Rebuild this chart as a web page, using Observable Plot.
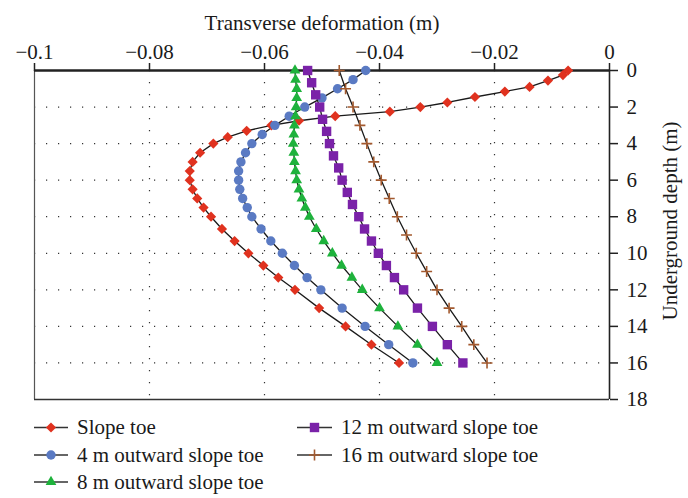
<!DOCTYPE html>
<html><head><meta charset="utf-8">
<script src="https://cdn.jsdelivr.net/npm/d3@7"></script>
<script src="https://cdn.jsdelivr.net/npm/@observablehq/plot@0.6"></script>
<style>
body{margin:0;background:#fff;}
#wrap{position:relative;width:688px;height:498px;font-family:"Liberation Serif","DejaVu Serif",serif;}
#wrap svg{font-family:"Liberation Serif","DejaVu Serif",serif;}
#wrap svg text{font-family:"Liberation Serif","DejaVu Serif",serif !important;}
#wrap svg.leg{position:absolute;left:0;top:0;pointer-events:none;}
</style></head><body><div id="wrap"></div>
<script>
// ---- data ----
const xTicks = [-0.1, -0.08, -0.06, -0.04, -0.02, 0];
const yTicks = [0, 2, 4, 6, 8, 10, 12, 14, 16, 18];
const seriesNames = ["Slope toe", "4 m outward slope toe", "8 m outward slope toe", "12 m outward slope toe", "16 m outward slope toe"];

const depthToe = [0, 0.25, 0.55, 0.9, 1.15, 1.45, 1.75, 2, 2.25, 2.5, 2.75, 3, 3.3, 3.65, 4, 4.5, 5, 5.5, 6, 6.5, 7, 7.5, 8, 8.67, 9.33, 10, 10.67, 11.33, 12, 13, 14, 15, 16];
const valToe = [-0.0072, -0.0081, -0.0107, -0.0139, -0.0182, -0.0234, -0.0282, -0.0329, -0.0382, -0.0477, -0.054, -0.0588, -0.0631, -0.0664, -0.0689, -0.0712, -0.0725, -0.073, -0.073, -0.0725, -0.0717, -0.0706, -0.0693, -0.0674, -0.0652, -0.0628, -0.0602, -0.0576, -0.0547, -0.0505, -0.0459, -0.0414, -0.0366];

const depth4 = [0, 0.5, 1, 1.5, 2, 2.5, 3, 3.5, 4, 4.5, 5, 5.5, 6, 6.5, 7, 7.5, 8, 8.67, 9.33, 10, 10.67, 11.33, 12, 13, 14, 15, 16];
const val4 = [-0.0424, -0.0446, -0.0473, -0.05, -0.053, -0.0557, -0.0582, -0.0604, -0.0622, -0.0633, -0.0641, -0.0645, -0.0645, -0.0643, -0.0638, -0.063, -0.0622, -0.0606, -0.0589, -0.0569, -0.0548, -0.0526, -0.0502, -0.0465, -0.0425, -0.0384, -0.0342];

const depth8 = [0, 0.5, 1, 1.5, 2, 2.5, 3, 3.5, 4, 4.5, 5, 5.5, 6, 6.5, 7, 7.5, 8, 8.67, 9.33, 10, 10.67, 11.33, 12, 13, 14, 15, 16];
const val8 = [-0.0547, -0.0546, -0.0544, -0.0544, -0.0545, -0.0546, -0.0548, -0.0549, -0.055, -0.0549, -0.0548, -0.0546, -0.0544, -0.054, -0.0535, -0.0529, -0.0522, -0.051, -0.0497, -0.0482, -0.0466, -0.0448, -0.043, -0.04, -0.0368, -0.0334, -0.03];

const depth12 = [0, 0.67, 1.33, 2, 2.67, 3.33, 4, 4.67, 5.33, 6, 6.67, 7.33, 8, 8.67, 9.33, 10, 10.67, 11.33, 12, 13, 14, 15, 16];
const val12 = [-0.0525, -0.0518, -0.0511, -0.0504, -0.0499, -0.0492, -0.0487, -0.048, -0.0471, -0.0465, -0.0456, -0.0447, -0.0436, -0.0426, -0.0414, -0.0402, -0.0388, -0.0374, -0.0358, -0.0334, -0.0308, -0.0282, -0.0255];

const depth16 = [0, 1, 2, 3, 4, 5, 6, 7, 8, 9, 10, 11, 12, 13, 14, 15, 16];
const val16 = [-0.047, -0.0459, -0.0446, -0.0434, -0.0422, -0.041, -0.0397, -0.0383, -0.0369, -0.0353, -0.0336, -0.0318, -0.03, -0.0279, -0.0257, -0.0236, -0.0213];

// ---- styles ----
const colors = ["#e0321f", "#5a7ac3", "#1eb23c", "#7a22a8", "#a3592e"];
const symbolNames = ["diamond2", "circle", "triangle", "square", "plus"];
const d3Symbols = [d3.symbolDiamond2, d3.symbolCircle, d3.symbolTriangle, d3.symbolSquare, d3.symbolPlus];
const radii = [4.6, 4.7, 4.0, 5.3, 3.6];

const depths = [depthToe, depth4, depth8, depth12, depth16];
const vals = [valToe, val4, val8, val12, val16];
const series = seriesNames.map((name, i) => depths[i].map((d, j) => ({name, depth: d, value: vals[i][j]})));

const font = '"Liberation Serif", "DejaVu Serif", serif';
const fmt = d3.format("");

const marks = [
  Plot.gridX(xTicks.slice(1, -1), {stroke: "#333", strokeOpacity: 1, strokeWidth: 1.2, strokeDasharray: "1.2,10.8"}),
  Plot.gridY(yTicks.slice(1, -1), {stroke: "#333", strokeOpacity: 1, strokeWidth: 1.2, strokeDasharray: "1.2,10.8"}),
  Plot.ruleX([-0.1], {stroke: "#555", strokeWidth: 1.2}),
  Plot.ruleY([18], {stroke: "#333", strokeWidth: 1.5}),
  Plot.ruleX([0], {stroke: "#222", strokeWidth: 1.6}),
  Plot.ruleY([0], {stroke: "#222", strokeWidth: 2.4})
];
series.forEach((s) => marks.push(Plot.line(s, {x: "value", y: "depth", stroke: "#1a1a1a", strokeWidth: 1.3})));
series.forEach((s, i) => {
  if (symbolNames[i] === "plus") {
    marks.push(Plot.dot(s, {x: "value", y: "depth", symbol: "plus", r: radii[i], stroke: colors[i], strokeWidth: 1.6, fill: "none"}));
  } else {
    marks.push(Plot.dot(s, {x: "value", y: "depth", symbol: symbolNames[i], r: radii[i], fill: colors[i], stroke: "none"}));
  }
});
marks.push(
  Plot.axisX({anchor: "top", ticks: xTicks, tickFormat: (d) => fmt(d), tickSize: 8, tickPadding: 4, label: null, strokeWidth: 1.5, stroke: "#222"}),
  Plot.axisY({anchor: "right", ticks: yTicks, tickFormat: (d) => fmt(d), tickSize: 8, tickPadding: 9, label: null, strokeWidth: 1.5, stroke: "#222"}),
  Plot.text(["Transverse deformation (m)"], {frameAnchor: "top", dy: -55}),
  Plot.text(["Underground depth (m)"], {frameAnchor: "right", textAnchor: "middle", rotate: -90, dx: 61, dy: -14})
);

const chart = Plot.plot({
  width: 688, height: 498,
  marginTop: 70, marginLeft: 34, marginRight: 79, marginBottom: 99,
  style: {fontFamily: font, fontSize: "21px", color: "#1a1a1a", background: "#fff"},
  x: {domain: [-0.1, 0]},
  y: {domain: [0, 18], reverse: true},
  marks
});
const wrap = document.getElementById("wrap");
wrap.appendChild(chart);

// ---- legend ----
const legendPos = [
  {lx1: 34, lx2: 68, tx: 77, y: 427.5},
  {lx1: 34, lx2: 68, tx: 77, y: 455},
  {lx1: 34, lx2: 68, tx: 77, y: 482},
  {lx1: 297, lx2: 332, tx: 341, y: 427.5},
  {lx1: 297, lx2: 332, tx: 341, y: 455}
];
const leg = d3.create("svg").attr("class", "leg").attr("width", 688).attr("height", 498);
seriesNames.forEach((name, i) => {
  const p = legendPos[i];
  const g = leg.append("g");
  g.append("line").attr("x1", p.lx1).attr("x2", p.lx2).attr("y1", p.y).attr("y2", p.y)
    .attr("stroke", "#333").attr("stroke-width", 1.5);
  const cx = (p.lx1 + p.lx2) / 2;
  const path = d3.symbol(d3Symbols[i], Math.PI * radii[i] * radii[i])();
  const sym = g.append("path").attr("d", path).attr("transform", `translate(${cx},${p.y})`);
  if (symbolNames[i] === "plus") sym.attr("fill", "none").attr("stroke", colors[i]).attr("stroke-width", 1.6);
  else sym.attr("fill", colors[i]);
  g.append("text").attr("x", p.tx).attr("y", p.y).attr("dy", "0.32em")
    .attr("font-size", 21).attr("fill", "#1a1a1a").text(name);
});
wrap.appendChild(leg.node());
</script></body></html>
